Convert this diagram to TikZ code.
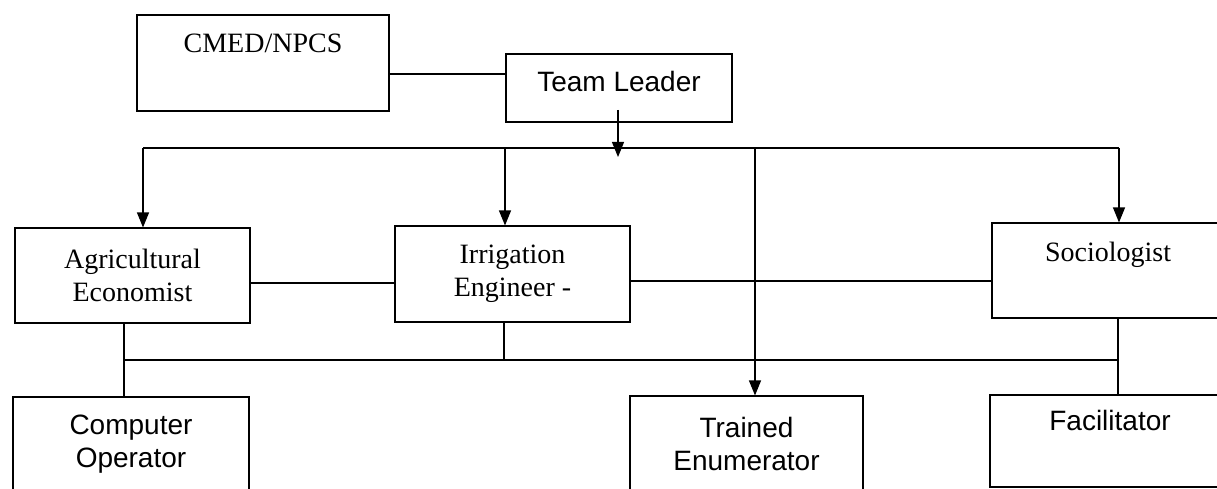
\documentclass[tikz,border=0pt]{standalone}
\usepackage{fontspec}
\setmainfont{Liberation Serif}
\newfontfamily\arialfont{Liberation Sans}
\usetikzlibrary{arrows.meta}

\tikzset{
  box/.style={draw, line width=1.1pt, rectangle, inner sep=0pt, align=center,
    font=\fontsize{28}{33}\selectfont},
  sansbox/.style={box, font=\arialfont\fontsize{28}{33}\selectfont},
  link/.style={line width=1.1pt},
  arr/.style={line width=1.1pt, -{Triangle[length=15pt,width=12pt]}}
}

\begin{document}
\begin{tikzpicture}[x=1pt,y=-1pt]
    \useasboundingbox (0,0) rectangle (1217,489);
    \fill[white] (0,0) rectangle (1217,489);

    % boxes
    \node[box, minimum width=252pt, text height=38pt, text depth=58pt] (cmed) at (263,63) {CMED/NPCS};
    \node[sansbox, minimum width=226pt, text height=38pt, text depth=30pt] (tl) at (619,88) {Team Leader};
    \node[box, minimum width=235pt, minimum height=95pt] (ae) at (132.5,275.5) {Agricultural\\Economist};
    \node[box, minimum width=235pt, minimum height=96pt] (ie) at (512.5,274) {Irrigation\\Engineer -};
    \node[box, minimum width=232pt, text height=38pt, text depth=57pt] (soc) at (1108,270.5) {Sociologist};
    \node[sansbox, minimum width=236pt, minimum height=95pt] (co) at (131,444.5) {Computer\\Operator};
    \node[sansbox, minimum width=233pt, minimum height=96pt] (te) at (746.5,444) {Trained\\Enumerator};
    \node[sansbox, minimum width=240pt, text height=35pt, text depth=57pt] (fac) at (1110,441) {Facilitator};

    % top links
    \draw[link] (cmed.east |- 0,74) -- (tl.west |- 0,74);
    \coordinate (tlout) at (618,110);
    \coordinate (tltip) at (618,157);
    \draw[arr] (tlout) -- (tltip);

    \coordinate (busL) at (143,148);
    \coordinate (busR) at (1119,148);
    \coordinate (bie) at (505,148);
    \coordinate (bte) at (755,148);
    \draw[link] (busL) -- (busR);
    \draw[arr] (busL) -- (busL |- ae.north);
    \draw[arr] (bie) -- (bie |- ie.north);
    \draw[arr] (bte) -- (bte |- te.north);
    \draw[arr] (busR) -- (busR |- soc.north);

    % middle row
    \draw[link] (ae.east |- 0,283) -- (ie.west |- 0,283);
    \draw[link] (ie.east |- 0,281) -- (soc.west |- 0,281);

    % lower bus
    \coordinate (lowL) at (124,360);
    \coordinate (lowR) at (1118,360);
    \coordinate (lie) at (504,360);
    \draw[link] (lowL) -- (lowR);
    \draw[link] (lowL |- ae.south) -- (lowL |- co.north);
    \draw[link] (lie |- ie.south) -- (lie);
    \draw[link] (lowR |- soc.south) -- (lowR |- fac.north);
\end{tikzpicture}
\end{document}
